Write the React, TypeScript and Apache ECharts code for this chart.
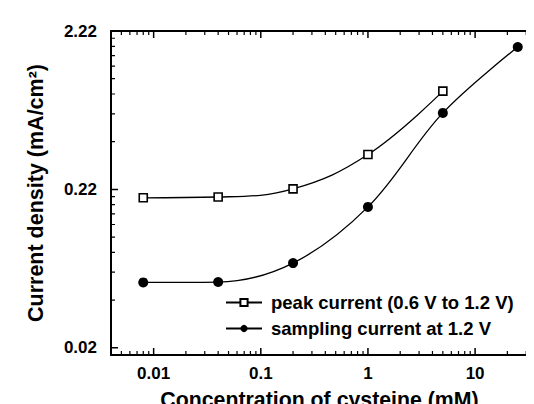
import React, { useEffect, useRef } from "react";
import * as echarts from "echarts";

// Concentration of cysteine (mM)
const concentrations = [0.008, 0.04, 0.2, 1, 5, 25];
// peak current (0.6 V to 1.2 V), mA/cm²
const peakCurrent = [0.177, 0.179, 0.2015, 0.332, 0.834];
// sampling current at 1.2 V, mA/cm²
const samplingCurrent = [0.0517, 0.052, 0.0685, 0.155, 0.608, 1.585];

const xTickValues = [0.01, 0.1, 1, 10];
const xTickLabels = ["0.01", "0.1", "1", "10"];
const yTickValues = [0.02, 0.2, 2];
const yTickLabels = ["0.02", "0.22", "2.22"];

const X_MIN = 0.004;
const X_MAX = 50;
const Y_MIN = 0.018;
const Y_MAX = 2;

const FONT = "'Liberation Sans', Arial, Helvetica, sans-serif";
const MAJOR_LEN = 7;
const MINOR_LEN = 4;

const GRID = { left: 103, top: 23, right: -8, bottom: 57 };
const W = 534;
const H = 404;

function minorTicks(bases: number[], min: number, max: number): number[] {
  const out: number[] = [];
  bases.forEach((b) => {
    for (let k = 2; k <= 9; k++) {
      const v = Number((b * k).toPrecision(8));
      if (v > min && v < max) out.push(v);
    }
  });
  return out;
}

function labelFor(values: number[], labels: string[]) {
  return (v: number) => {
    const i = values.findIndex((t) => Math.abs(t - v) / t < 1e-6);
    return i >= 0 ? labels[i] : "";
  };
}

export default function App() {
  const ref = useRef<HTMLDivElement>(null);
  useEffect(() => {
    if (!ref.current) return;
    const chart = echarts.init(ref.current, undefined, { renderer: "svg" });
    const xMinor = minorTicks([0.001, 0.01, 0.1, 1, 10], X_MIN, X_MAX);
    const yMinor = minorTicks([0.002, 0.02, 0.2], Y_MIN, Y_MAX);

    // pixels per decade on each log axis, used to express tick length in data units
    const pxDecX = (W - GRID.left - GRID.right) / Math.log10(X_MAX / X_MIN);
    const pxDecY = (H - GRID.top - GRID.bottom) / Math.log10(Y_MAX / Y_MIN);

    const tickSegments = (xs: number[], ys: number[], len: number) => {
      const fy = Math.pow(10, len / pxDecY);
      const fx = Math.pow(10, len / pxDecX);
      const d: any[] = [];
      xs.forEach((v) => {
        d.push([v, Y_MIN], [v, Y_MIN * fy], [v, "-"]);
        d.push([v, Y_MAX], [v, Y_MAX / fy], [v, "-"]);
      });
      ys.forEach((v) => {
        d.push([X_MIN, v], [X_MIN * fx, v], ["-", v]);
      });
      return d;
    };

    const axisLine = { show: true, onZero: false, lineStyle: { color: "#000", width: 2 } };
    const tickSeries = (data: any[], width: number) => ({
      type: "line",
      xAxisIndex: 0,
      yAxisIndex: 0,
      data,
      symbol: "none",
      connectNulls: false,
      silent: true,
      clip: false,
      lineStyle: { color: "#000", width },
      z: 5,
    });

    chart.setOption({
      animation: false,
      backgroundColor: "#fff",
      textStyle: { fontFamily: FONT },
      tooltip: { show: false },
      grid: {
        ...GRID,
        containLabel: false,
        outerBoundsMode: "none",
      },
      legend: {
        orient: "vertical",
        left: 217,
        top: 285,
        padding: 0,
        itemWidth: 36,
        itemHeight: 9,
        itemGap: 7,
        textStyle: {
          fontFamily: FONT,
          fontWeight: "bold",
          fontSize: 18.5,
          color: "#000",
          padding: [0, 0, 0, 4],
        },
        data: ["peak current (0.6 V to 1.2 V)", "sampling current at 1.2 V"],
      },
      xAxis: [
        {
          type: "log",
          min: X_MIN,
          max: X_MAX,
          position: "bottom",
          splitLine: { show: false },
          axisLine,
          axisTick: { show: false },
          axisLabel: {
            customValues: xTickValues,
            formatter: labelFor(xTickValues, xTickLabels),
            fontFamily: FONT,
            fontWeight: "bold",
            fontSize: 17,
            color: "#000",
            margin: 10,
          },
          name: "Concentration of cysteine (mM)",
          nameLocation: "middle",
          nameGap: 34,
          nameTextStyle: {
            fontFamily: FONT,
            fontWeight: "bold",
            fontSize: 21.3,
            color: "#000",
            padding: [0, 22, 0, 0],
          },
        },
        {
          type: "log",
          min: X_MIN,
          max: X_MAX,
          position: "top",
          splitLine: { show: false },
          axisLine,
          axisTick: { show: false },
          axisLabel: { show: false },
        },
      ],
      yAxis: [
        {
          type: "log",
          min: Y_MIN,
          max: Y_MAX,
          position: "left",
          splitLine: { show: false },
          axisLine,
          axisTick: { show: false },
          axisLabel: {
            customValues: yTickValues,
            formatter: labelFor(yTickValues, yTickLabels),
            fontFamily: FONT,
            fontWeight: "bold",
            fontSize: 17,
            color: "#000",
            margin: 14,
          },
          name: "Current density (mA/cm²)",
          nameLocation: "middle",
          nameRotate: 90,
          nameGap: 64,
          nameTextStyle: {
            fontFamily: FONT,
            fontWeight: "bold",
            fontSize: 21.5,
            color: "#000",
          },
        },
      ],
      series: [
        {
          name: "peak current (0.6 V to 1.2 V)",
          type: "line",
          xAxisIndex: 0,
          yAxisIndex: 0,
          data: peakCurrent.map((v, i) => [concentrations[i], v]),
          smooth: 0.4,
          symbol: "rect",
          symbolSize: 8,
          lineStyle: { color: "#000", width: 1.3 },
          itemStyle: { color: "#fff", borderColor: "#000", borderWidth: 1.6 },
          z: 3,
        },
        {
          name: "sampling current at 1.2 V",
          type: "line",
          xAxisIndex: 0,
          yAxisIndex: 0,
          data: samplingCurrent.map((v, i) => [concentrations[i], v]),
          smooth: 0.35,
          symbol: "circle",
          symbolSize: 10,
          lineStyle: { color: "#000", width: 1.3 },
          itemStyle: { color: "#000", borderColor: "#000", borderWidth: 0 },
          z: 3,
        },
        tickSeries(tickSegments(xTickValues, yTickValues, MAJOR_LEN), 1.5),
        tickSeries(tickSegments(xMinor, yMinor, MINOR_LEN), 1.2),
      ],
    });

    return () => chart.dispose();
  }, []);
  return (
    <div
      ref={ref}
      style={{ position: "fixed", left: 0, top: 0, width: W, height: H, background: "#fff" }}
    />
  );
}
